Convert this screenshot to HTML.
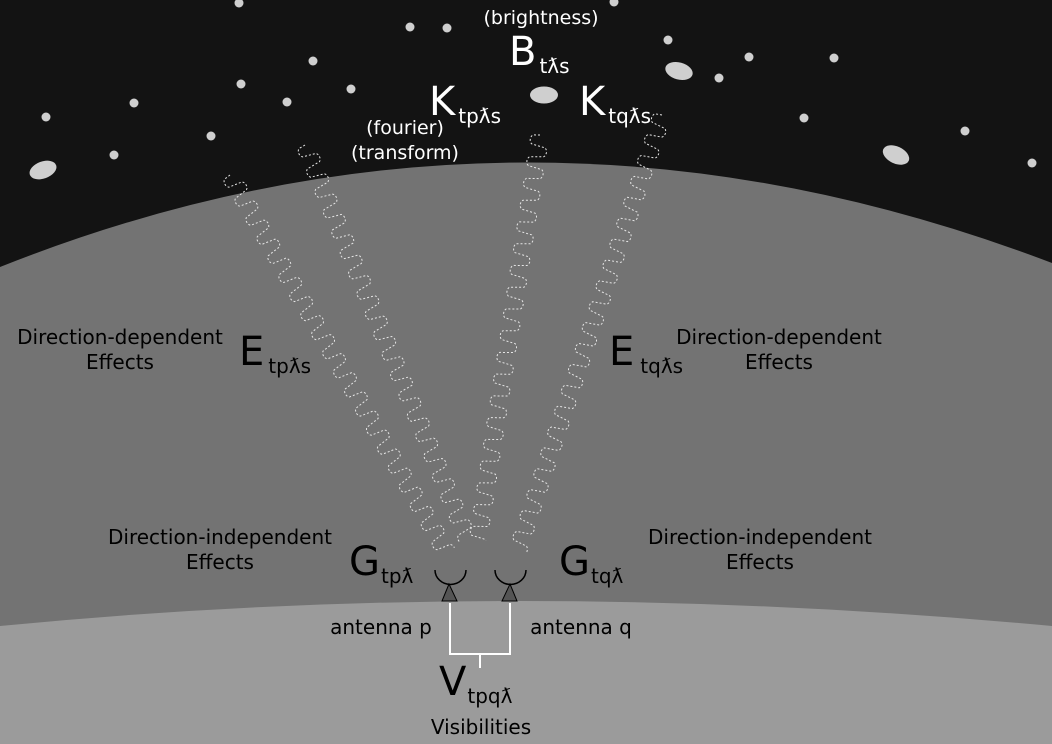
<!DOCTYPE html>
<html><head><meta charset="utf-8"><style>
html,body{margin:0;padding:0;background:#131313}
svg{display:block}
text{font-family:"DejaVu Sans","Liberation Sans",sans-serif}
</style></head><body>
<svg id="s" width="1052" height="744" viewBox="0 0 1052 744">
<rect width="1052" height="744" fill="#131313"/>
<path d="M0,267 Q520,60 1052,263 L1052,744 L0,744 Z" fill="#737373"/>
<path d="M0,626 Q510,576 1052,626 L1052,744 L0,744 Z" fill="#9b9b9b"/>
<g id="stars" fill="#cfcfcf"></g>
<g id="waves" fill="none" stroke="#e6e6e6" stroke-width="1" stroke-dasharray="2,2"></g>
<g>
<path d="M435,570 A15,14 0 0 0 466,570" fill="none" stroke="#000" stroke-width="1.5"/>
<polygon points="449,584 442,601 457,601" fill="#555" stroke="#000" stroke-width="1"/>
</g>
<g>
<path d="M495,570 A15,14 0 0 0 526,570" fill="none" stroke="#000" stroke-width="1.5"/>
<polygon points="510,584 502,601 517,601" fill="#555" stroke="#000" stroke-width="1"/>
</g>
<path d="M450,603 V654 H510 V603 M480,654 V668" fill="none" stroke="#fff" stroke-width="2"/>
<g fill="#fff">
<text x="541" y="24" font-size="19" text-anchor="middle">(brightness)</text>
<text x="509" y="65" font-size="40">B<tspan font-size="20" dx="3" dy="8">tƛs</tspan></text>
<text x="429" y="115" font-size="40">K<tspan font-size="20" dx="3" dy="8">tpƛs</tspan></text>
<text x="579" y="115" font-size="40">K<tspan font-size="20" dx="3" dy="8">tqƛs</tspan></text>
<text x="405" y="134" font-size="19" text-anchor="middle">(fourier)</text>
<text x="405" y="159" font-size="19" text-anchor="middle">(transform)</text>
</g>
<g fill="#000">
<text x="120" y="344" font-size="20" text-anchor="middle">Direction-dependent</text>
<text x="120" y="369" font-size="20" text-anchor="middle">Effects</text>
<text x="779" y="344" font-size="20" text-anchor="middle">Direction-dependent</text>
<text x="779" y="369" font-size="20" text-anchor="middle">Effects</text>
<text x="239" y="365" font-size="40">E<tspan font-size="20" dx="4" dy="8">tpƛs</tspan></text>
<text x="609" y="365" font-size="40">E<tspan font-size="20" dx="6" dy="8">tqƛs</tspan></text>
<text x="220" y="544" font-size="20" text-anchor="middle">Direction-independent</text>
<text x="220" y="569" font-size="20" text-anchor="middle">Effects</text>
<text x="760" y="544" font-size="20" text-anchor="middle">Direction-independent</text>
<text x="760" y="569" font-size="20" text-anchor="middle">Effects</text>
<text x="349" y="575" font-size="40">G<tspan font-size="20" dx="1" dy="8">tpƛ</tspan></text>
<text x="559" y="575" font-size="40">G<tspan font-size="20" dx="1" dy="8">tqƛ</tspan></text>
<text x="381" y="634" font-size="20" text-anchor="middle">antenna p</text>
<text x="581" y="634" font-size="20" text-anchor="middle">antenna q</text>
<text x="439" y="695" font-size="40">V<tspan font-size="20" dx="1" dy="8">tpqƛ</tspan></text>
<text x="481" y="734" font-size="20" text-anchor="middle">Visibilities</text>
</g>
</svg>
<script>
const NS="http://www.w3.org/2000/svg";
const starX=[239,410,447,614,668,313,241,287,351,134,46,114,211,719,749,834,804,965,1032];
const starY=[3,27,28,2,40,61,84,102,89,103,117,155,136,78,57,58,118,131,163];
const g=document.getElementById('stars');
for(let i=0;i<starX.length;i++){
  const c=document.createElementNS(NS,'circle');
  c.setAttribute('cx',starX[i]);c.setAttribute('cy',starY[i]);c.setAttribute('r',4.5);
  
  
  g.appendChild(c);
}
const galX=[43,679,544,896],galY=[170,71,95,155],galA=[-20,15,0,25];
for(let i=0;i<galX.length;i++){
  const e=document.createElementNS(NS,'ellipse');
  e.setAttribute('cx',galX[i]);e.setAttribute('cy',galY[i]);e.setAttribute('rx',14);e.setAttribute('ry',8.5);
  e.setAttribute('transform',`rotate(${galA[i]} ${galX[i]} ${galY[i]})`);
  
  
  g.appendChild(e);
}
const wx0=[230,305,540,662],wy0=[175,145,135,115],wx1=[447,468,478,518],wy1=[553,540,540,550];
const W=document.getElementById('waves');
for(let i=0;i<4;i++){
  const dx=wx1[i]-wx0[i],dy=wy1[i]-wy0[i],L=Math.hypot(dx,dy);
  const ux=dx/L,uy=dy/L,nx=-uy,ny=ux;
  let d="";
  for(let t=0;t<=L;t+=1){
    const ph=(t/22)*2*Math.PI;
    let s=Math.sin(ph);s=Math.sign(s)*Math.pow(Math.abs(s),0.2);
    const a=9*s;
    const x=wx0[i]+ux*t+nx*a,y=wy0[i]+uy*t+ny*a;
    d+=(t?"L":"M")+x.toFixed(1)+","+y.toFixed(1);
  }
  const p=document.createElementNS(NS,'path');
  p.setAttribute('d',d);
  
  
  W.appendChild(p);
}
</script>
</body></html>
